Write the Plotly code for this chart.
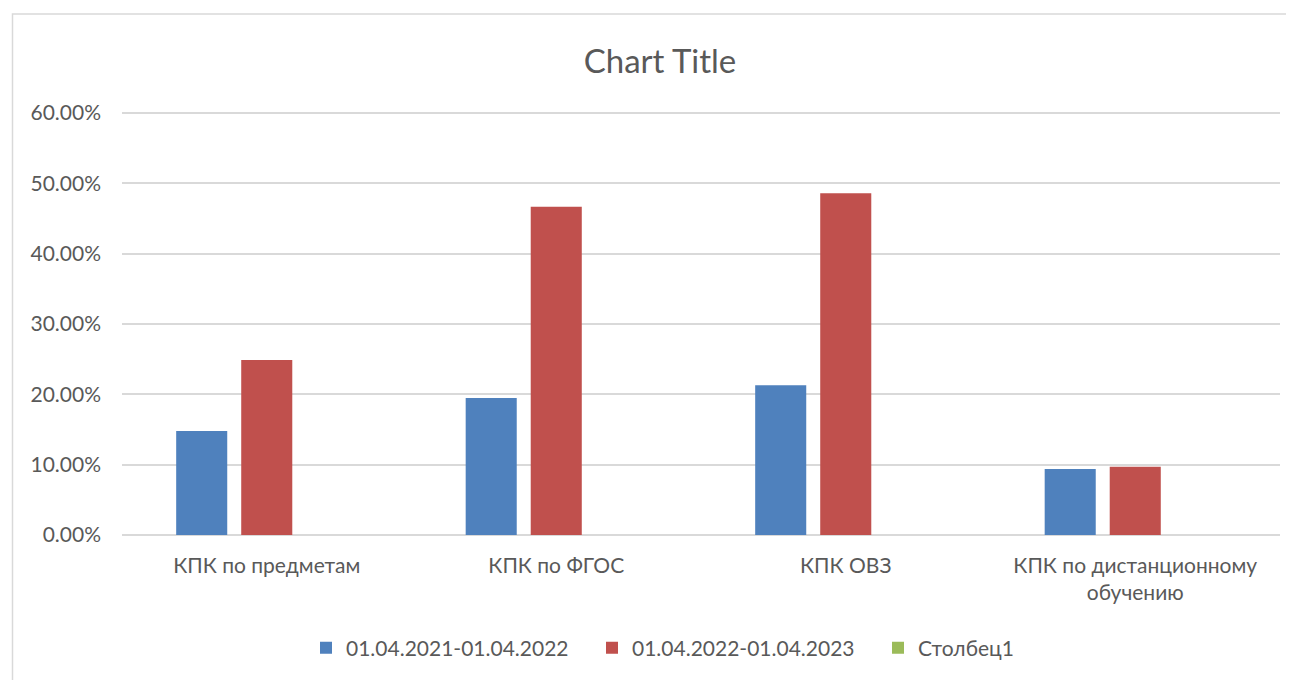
import plotly.graph_objects as go

categories = ["КПК по предметам", "КПК по ФГОС", "КПК ОВЗ", "КПК по дистанционному<br>обучению"]
series_names = ["01.04.2021-01.04.2022", "01.04.2022-01.04.2023", "Столбец1"]
s1 = [0.148, 0.195, 0.213, 0.094]
s2 = [0.249, 0.467, 0.486, 0.097]
s3 = [0, 0, 0, 0]
colors = ["#4f81bd", "#c0504d", "#9bbb59"]
tick_vals = [0, 0.1, 0.2, 0.3, 0.4, 0.5, 0.6]
tick_text = ["0.00%", "10.00%", "20.00%", "30.00%", "40.00%", "50.00%", "60.00%"]

FONT = "Lato"
TXT = "#595959"
OFF = 8  # page body margin

fig = go.Figure()
for name, vals, c in zip(series_names, [s1, s2, s3], colors):
    fig.add_trace(go.Bar(x=categories, y=vals, name=name, marker=dict(color=c, line=dict(width=0))))

W, H = 1294, 680
YMAX = 0.603
px_per_unit = 422 / 0.6
L = 122 - OFF
R = W - (1280 - OFF)
B = H - (535 - OFF)
T = (113 - OFF) - round((YMAX - 0.6) * px_per_unit)
pw = W - L - R
ph = H - T - B

def px_x(p):
    return (p - OFF - L) / pw

def px_y(p):
    return (H - B - (p - OFF)) / ph

fig.update_layout(
    width=W, height=H,
    margin=dict(l=L, r=R, t=T, b=B, pad=0),
    paper_bgcolor="white", plot_bgcolor="white",
    barmode="group", bargap=0.326, bargroupgap=0.215,
    font=dict(family=FONT, size=21, color=TXT),
    title=dict(text="Chart Title", x=(660 - OFF) / W, xanchor="center", y=1 - (61 - OFF) / H, yanchor="middle",
               font=dict(family=FONT, size=33, color=TXT)),
    showlegend=True,
    legend=dict(orientation="h", x=0.5 + 34 / pw, xanchor="center", y=px_y(648), yanchor="middle",
                font=dict(family=FONT, size=21, color=TXT), itemwidth=30, traceorder="normal",
                entrywidth=241),
    xaxis=dict(showgrid=False, showline=False, ticks="", ticklabelstandoff=16,
               tickfont=dict(family=FONT, size=21, color=TXT)),
    yaxis=dict(range=[0, YMAX], tickvals=tick_vals, ticktext=tick_text, showgrid=True,
               gridcolor="#d9d9d9", gridwidth=1.5, zeroline=True, zerolinecolor="#d9d9d9", zerolinewidth=1.5,
               showline=False, ticks="", ticklabelstandoff=20,
               tickfont=dict(family=FONT, size=21, color=TXT)),
    shapes=[dict(type="rect", xref="paper", yref="paper",
                 x0=px_x(12.5), x1=px_x(1310), y0=px_y(700), y1=px_y(14),
                 line=dict(color="#d9d9d9", width=1.5), fillcolor="rgba(0,0,0,0)", layer="below")],
)

fig.write_html("out.html")
